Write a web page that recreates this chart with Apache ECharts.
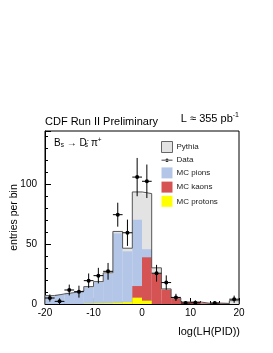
<!DOCTYPE html>
<html>
<head>
<meta charset="utf-8">
<script src="https://cdn.jsdelivr.net/npm/echarts@6/dist/echarts.min.js"></script>
<style>
html,body{margin:0;padding:0;background:#fff;}
#c{width:273px;height:353px;}
</style>
</head>
<body>
<div id="c"></div>
<script>
// bin centres (bin width 2) on log(LH(PID))
const binCenters = [-19,-17,-15,-13,-11,-9,-7,-5,-3,-1,1,3,5,7,9,11,13,15,17,19];
const halfWidth = 1;
const pythia   = [7,8.4,9.5,10.8,14.5,18.7,26,60.6,46.6,93.6,92.2,30.2,12.6,5,1.7,1.7,0.6,0.8,0.5,2.8];
const mcPions  = [6,7.5,9,10,14,18,25,59,44,70.4,45.8,3,1,0,0,0,0,0,0,0];
const mcKaons  = [0,0,0,0,0,0,0,0,0,15,39,25.1,12,4.5,1.5,1.5,0.5,0.6,0.4,0];
const mcProtons= [0,0,0,0,0.3,0.5,0.6,1,1.5,5.3,2.8,0,0,0,0,0,0,0,0,0];
const dataX    = [-19,-17,-15,-13,-11,-9,-7,-5,-3,-1,1,3,5,7,9,11,15,19];
const dataY    = [5,2.2,11.7,10.3,19.5,23.7,27.3,74.6,59.5,106,102.5,25.7,17.9,5.5,0.8,1,0.8,4];
const dataErr  = [3,2.5,4.5,5,6,6.5,7,10,11,16,14,7,6,3,1.5,2,1.5,3];
const xTicks = [-20,-10,0,10,20];
const yTicks = [0,50,100];

const chart = echarts.init(document.getElementById('c'), null, {renderer:'canvas'});

function histData(vals){ return binCenters.map((c,i)=>[c-halfWidth,c+halfWidth,vals[i]]); }
function histSeries(name, vals, color){
  return {
    name, type:'custom', data: histData(vals), encode:{x:[0,1], y:2},
    renderItem:function(params, api){
      const p1 = api.coord([api.value(0), api.value(2)]);
      const p2 = api.coord([api.value(1), 0]);
      return {type:'rect', shape:{x:p1[0], y:p1[1], width:p2[0]-p1[0], height:p2[1]-p1[1]},
        style:{fill:color}};
    },
    itemStyle:{color}, z:2
  };
}
// step outline for Pythia
const outline = [[binCenters[0]-halfWidth,0]];
binCenters.forEach((c,i)=>outline.push([c-halfWidth,pythia[i]]));
outline.push([binCenters[binCenters.length-1]+halfWidth,pythia[pythia.length-1]]);
outline.push([binCenters[binCenters.length-1]+halfWidth,0]);

const FONT = 'Liberation Sans, Arial, Helvetica, sans-serif';
const option = {
  animation:false,
  backgroundColor:'#fff',
  grid:{left:45, right:34, top:131, bottom:49, containLabel:false, outerBoundsMode:'none',
    show:true, borderColor:'#000', borderWidth:1, backgroundColor:'transparent'},
  xAxis:{type:'value', min:-20, max:20, interval:10,
    axisLine:{show:true, onZero:false, lineStyle:{color:'#000', width:1}},
    axisTick:{show:true, inside:true, length:6, lineStyle:{color:'#000'}},
    minorTick:{show:true, splitNumber:5, length:3, lineStyle:{color:'#000'}},
    splitLine:{show:false},
    axisLabel:{color:'#000', fontFamily:FONT, fontSize:10, margin:4}
  },
  yAxis:{type:'value', min:0, max:144.5, interval:50,
    axisLine:{show:true, onZero:false, lineStyle:{color:'#000', width:1}},
    axisTick:{show:true, inside:true, length:6, lineStyle:{color:'#000'}},
    minorTick:{show:true, splitNumber:5, length:3, lineStyle:{color:'#000'}},
    splitLine:{show:false},
    axisLabel:{color:'#000', fontFamily:FONT, fontSize:10, margin:8, showMaxLabel:false},
    name:'entries per bin', nameLocation:'middle', nameGap:25, nameMoveOverlap:false,
    nameTextStyle:{color:'#000', fontFamily:FONT, fontSize:10.5}
  },
  legend:{
    orient:'vertical', left:161, top:141, padding:0, itemWidth:11, itemHeight:11, itemGap:3.2,
    textStyle:{fontFamily:FONT, fontSize:8, color:'#222', padding:[0,0,0,-1]},
    data:[
      {name:'Pythia', icon:'rect', itemStyle:{color:'#e3e3e3', borderColor:'#666', borderWidth:1}},
      {name:'Data', icon:'path://M0,4.6h11v0.8h-11z M5.5,3.3a1.7,1.7 0 1,0 0.01,0z', itemStyle:{color:'#000'}},
      {name:'MC pions', icon:'rect', itemStyle:{color:'#b3c6e8'}},
      {name:'MC kaons', icon:'rect', itemStyle:{color:'#d65353'}},
      {name:'MC protons', icon:'rect', itemStyle:{color:'#ffff00'}}
    ],
    selectedMode:false
  },
  graphic:[
    {type:'text', left:45, top:116, style:{text:'CDF Run II Preliminary', font:'11px '+FONT, fill:'#000'}},
    {type:'text', right:34, top:112, style:{
      text:'L ≈ 355 pb{sup|-1}', font:'11px '+FONT, fill:'#000',
      rich:{sup:{fontSize:7, fontFamily:FONT, verticalAlign:'top', padding:[0,0,7,0], fill:'#000'}}}},
    {type:'text', left:54, top:137, z:10, style:{
      text:'B{sub|s} → D{sup|-}{sub2|s} π{sup2|+}', font:'10px '+FONT, fill:'#000',
      rich:{
        sub:{fontSize:6.5, fontFamily:FONT, padding:[5,0,0,0]},
        sup:{fontSize:6.5, fontFamily:FONT, padding:[0,0,5,0]},
        sub2:{fontSize:6.5, fontFamily:FONT, padding:[5,0,0,-4]},
        sup2:{fontSize:6.5, fontFamily:FONT, padding:[0,0,5,0]}
      }}},
    {type:'text', right:33, top:326, style:{text:'log(LH(PID))', font:'11px '+FONT, fill:'#000', textAlign:'right'}}
  ],
  series:[
    histSeries('Pythia', pythia, '#e3e3e3'),
    histSeries('MC pions', mcPions, '#b3c6e8'),
    histSeries('MC kaons', mcKaons, '#d65353'),
    histSeries('MC protons', mcProtons, '#ffff00'),
    {name:'PythiaOutline', type:'line', data:outline, step:'end', symbol:'none',
      lineStyle:{color:'#555', width:1}, z:3, silent:true},
    {name:'Data', type:'custom', z:5,
      data: dataX.map((x,i)=>[x, dataY[i], dataErr[i]]),
      encode:{x:0, y:1},
      itemStyle:{color:'#000'},
      renderItem:function(params, api){
        const x = api.value(0), y = api.value(1), e = api.value(2);
        const c = api.coord([x,y]);
        const top = api.coord([x, y+e]);
        const bot = api.coord([x, Math.max(0, y-e)]);
        const l = api.coord([x-halfWidth, y]);
        const r = api.coord([x+halfWidth, y]);
        return {type:'group', children:[
          {type:'line', shape:{x1:c[0], y1:top[1], x2:c[0], y2:bot[1]}, style:{stroke:'#000', lineWidth:1}},
          {type:'line', shape:{x1:l[0], y1:c[1], x2:r[0], y2:c[1]}, style:{stroke:'#000', lineWidth:1}},
          {type:'circle', shape:{cx:c[0], cy:c[1], r:2}, style:{fill:'#000'}}
        ]};
      }
    }
  ]
};
chart.setOption(option);
</script>
</body>
</html>
